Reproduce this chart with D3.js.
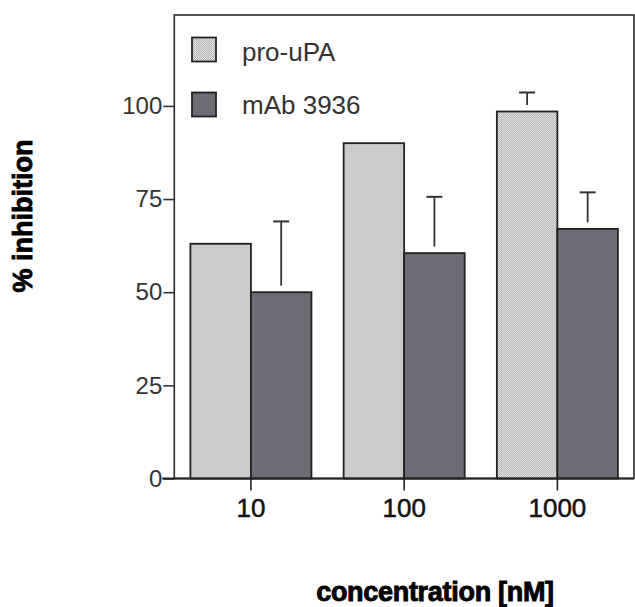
<!DOCTYPE html>
<html>
<head>
<meta charset="utf-8">
<script src="https://cdn.jsdelivr.net/npm/d3@7"></script>
<style>
  html, body { margin: 0; padding: 0; background: #fff; }
  svg { display: block; }
</style>
</head>
<body>
<svg id="chart" width="635" height="607"></svg>
<script>
// ---- data ----
const categories = ["10", "100", "1000"];
const seriesNames = ["pro-uPA", "mAb 3936"];
const proUPA = [63, 90, 98.5];
const mAb3936 = [50, 60.5, 67];
const proUPAErr = [0, 0, 5.1];
const mAb3936Err = [19, 15.1, 9.8];
const yTicks = [0, 25, 50, 75, 100];

(function () {
const svg = d3.select("#chart");
const mLeft = 174.3, mRight = 634, mTop = 15, mBottom = 478.5;

const defs = svg.append("defs");
const pLight = defs.append("pattern").attr("id", "light")
  .attr("width", 2).attr("height", 2).attr("patternUnits", "userSpaceOnUse");
pLight.append("rect").attr("width", 2).attr("height", 2).attr("fill", "#e2e2e2");
pLight.append("rect").attr("width", 1).attr("height", 1).attr("fill", "#b4b4b4");
pLight.append("rect").attr("x", 1).attr("y", 1).attr("width", 1).attr("height", 1).attr("fill", "#b4b4b4");

const fills = ["url(#light)", "#6d6d75"];

const x0 = d3.scaleBand().domain(categories).range([mLeft, mRight])
  .paddingInner(0.21).paddingOuter(0.105);
const x1 = d3.scaleBand().domain(seriesNames).range([0, x0.bandwidth()]);
const y = d3.scaleLinear().domain([0, 124.4]).range([mBottom, mTop]);

const rows = categories.map((c, i) => ({
  cat: c,
  vals: [
    { s: seriesNames[0], v: proUPA[i], e: proUPAErr[i], k: 0 },
    { s: seriesNames[1], v: mAb3936[i], e: mAb3936Err[i], k: 1 }
  ]
}));

// frame
svg.append("rect")
  .attr("x", mLeft).attr("y", mTop)
  .attr("width", mRight - mLeft).attr("height", mBottom - mTop)
  .attr("fill", "none").attr("stroke", "#2a2a2a").attr("stroke-width", 1.6);

// bars
const g = svg.append("g").selectAll("g").data(rows).join("g")
  .attr("transform", d => `translate(${x0(d.cat)},0)`);
g.selectAll("rect").data(d => d.vals).join("rect")
  .attr("x", d => x1(d.s))
  .attr("y", d => y(d.v))
  .attr("width", x1.bandwidth())
  .attr("height", d => y(0) - y(d.v))
  .attr("fill", d => fills[d.k])
  .attr("stroke", "#222").attr("stroke-width", 1.8);

// error bars (upper only, with gap above bar)
const gap = 6.5, capW = 16;
const errs = g.selectAll("g.err").data(d => d.vals.filter(v => v.e > 0)).join("g").attr("class", "err");
errs.append("line")
  .attr("x1", d => x1(d.s) + x1.bandwidth() / 2)
  .attr("x2", d => x1(d.s) + x1.bandwidth() / 2)
  .attr("y1", d => y(d.v) - gap)
  .attr("y2", d => y(d.v + d.e))
  .attr("stroke", "#333").attr("stroke-width", 1.8);
errs.append("line")
  .attr("x1", d => x1(d.s) + x1.bandwidth() / 2 - capW / 2)
  .attr("x2", d => x1(d.s) + x1.bandwidth() / 2 + capW / 2)
  .attr("y1", d => y(d.v + d.e))
  .attr("y2", d => y(d.v + d.e))
  .attr("stroke", "#333").attr("stroke-width", 2);

// y axis
const yAxis = svg.append("g").attr("transform", `translate(${mLeft},0)`)
  .call(d3.axisLeft(y).tickValues(yTicks).tickSize(11).tickPadding(1).tickFormat(d3.format("d")));
yAxis.select(".domain").remove();
yAxis.selectAll(".tick line").attr("stroke", "#333").attr("stroke-width", 1.6);
yAxis.selectAll(".tick text")
  .attr("font-family", "'Liberation Sans', Arial, sans-serif")
  .attr("font-size", 24).attr("fill", "#333");

// x axis
const xAxis = svg.append("g").attr("transform", `translate(0,${mBottom})`)
  .call(d3.axisBottom(x0).tickSize(12).tickPadding(8.5));
xAxis.select(".domain").remove();
xAxis.selectAll(".tick line").attr("stroke", "#222").attr("stroke-width", 1.6);
xAxis.selectAll(".tick text")
  .attr("font-family", "'Liberation Sans', Arial, sans-serif")
  .attr("font-size", 26).attr("fill", "#111")
  .attr("stroke", "#111").attr("stroke-width", 0.5);
// baseline line extending left to the 0 tick
svg.append("line")
  .attr("x1", mLeft - 12).attr("x2", mRight)
  .attr("y1", y(0)).attr("y2", y(0))
  .attr("stroke", "#222").attr("stroke-width", 2);

// legend
const legend = svg.append("g");
const legRows = [{ k: 0, y0: 37.5, base: 61 }, { k: 1, y0: 92.5, base: 114 }];
legRows.forEach(r => {
  legend.append("rect")
    .attr("x", 192).attr("y", r.y0).attr("width", 24).attr("height", 24)
    .attr("fill", fills[r.k]).attr("stroke", "#222").attr("stroke-width", 1.8);
  legend.append("text")
    .attr("x", 242).attr("y", r.base)
    .attr("font-family", "'Liberation Sans', Arial, sans-serif")
    .attr("font-size", 26).attr("fill", "#333")
    .text(seriesNames[r.k]);
});

// axis titles
svg.append("text")
  .attr("x", 435).attr("y", 601)
  .attr("text-anchor", "middle")
  .attr("font-family", "'Liberation Sans', Arial, sans-serif")
  .attr("font-weight", "bold").attr("font-size", 27)
  .attr("fill", "#000").attr("stroke", "#000").attr("stroke-width", 0.9)
  .attr("letter-spacing", "-0.3")
  .text("concentration [nM]");

svg.append("text")
  .attr("transform", "translate(32,216) rotate(-90)")
  .attr("text-anchor", "middle")
  .attr("font-family", "'Liberation Sans', Arial, sans-serif")
  .attr("font-weight", "bold").attr("font-size", 27)
  .attr("fill", "#000").attr("stroke", "#000").attr("stroke-width", 0.9)
  .text("% inhibition");
})();
</script>
</body>
</html>
